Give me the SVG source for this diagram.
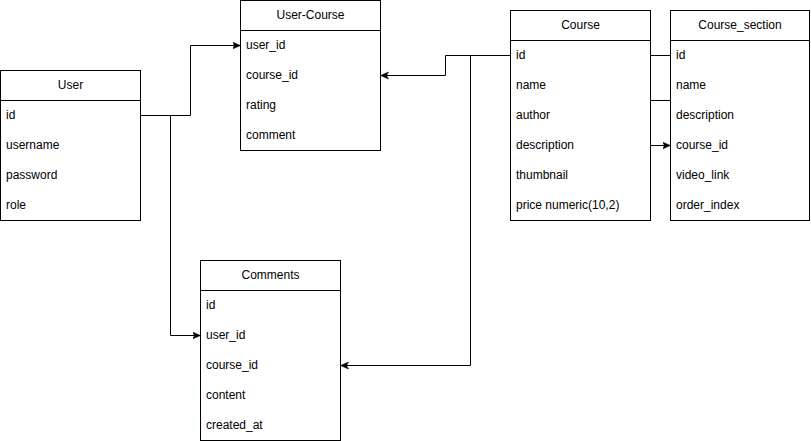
<svg xmlns="http://www.w3.org/2000/svg" width="811" height="441" viewBox="0 0 811 441">
<style>
.box{fill:#ffffff;stroke:#000000;stroke-width:1}
.hd{stroke:#000000;stroke-width:1}
.t{font-family:"Liberation Sans",Arial,sans-serif;font-size:12px;fill:#000000}
.h{text-anchor:middle}
.c{fill:none;stroke:#000000;stroke-width:1}
</style>
<defs>
<marker id="arr" markerUnits="userSpaceOnUse" markerWidth="10" markerHeight="10" refX="8" refY="4" orient="auto">
<path d="M0,0.5 L8,4 L0,7.5 L2,4 Z" fill="#000000" stroke="#000000" stroke-width="0.5"/>
</marker>
</defs>
<g id="User">
<rect class="box" x="0.5" y="70.5" width="140" height="150"/>
<line class="hd" x1="0.5" y1="100.5" x2="140.5" y2="100.5"/>
<text class="t h" x="70.5" y="89">User</text>
<text class="t" x="6" y="119">id</text>
<text class="t" x="6" y="149">username</text>
<text class="t" x="6" y="179">password</text>
<text class="t" x="6" y="209">role</text>
</g>
<g id="UserCourse">
<rect class="box" x="240.5" y="0.5" width="140" height="150"/>
<line class="hd" x1="240.5" y1="30.5" x2="380.5" y2="30.5"/>
<text class="t h" x="310.5" y="19">User-Course</text>
<text class="t" x="246" y="49">user_id</text>
<text class="t" x="246" y="79">course_id</text>
<text class="t" x="246" y="109">rating</text>
<text class="t" x="246" y="139">comment</text>
</g>
<g id="Course">
<rect class="box" x="510.5" y="10.5" width="140" height="210"/>
<line class="hd" x1="510.5" y1="40.5" x2="650.5" y2="40.5"/>
<text class="t h" x="580.5" y="29">Course</text>
<text class="t" x="516" y="59">id</text>
<text class="t" x="516" y="89">name</text>
<text class="t" x="516" y="119">author</text>
<text class="t" x="516" y="149">description</text>
<text class="t" x="516" y="179">thumbnail</text>
<text class="t" x="516" y="209">price numeric(10,2)</text>
</g>
<g id="CourseSection">
<rect class="box" x="670.5" y="10.5" width="139" height="210"/>
<line class="hd" x1="670.5" y1="40.5" x2="809.5" y2="40.5"/>
<text class="t h" x="740" y="29">Course_section</text>
<text class="t" x="676" y="59">id</text>
<text class="t" x="676" y="89">name</text>
<text class="t" x="676" y="119">description</text>
<text class="t" x="676" y="149">course_id</text>
<text class="t" x="676" y="179">video_link</text>
<text class="t" x="676" y="209">order_index</text>
</g>
<g id="Comments">
<rect class="box" x="200.5" y="260.5" width="140" height="180"/>
<line class="hd" x1="200.5" y1="290.5" x2="340.5" y2="290.5"/>
<text class="t h" x="270.5" y="279">Comments</text>
<text class="t" x="206" y="309">id</text>
<text class="t" x="206" y="339">user_id</text>
<text class="t" x="206" y="369">course_id</text>
<text class="t" x="206" y="399">content</text>
<text class="t" x="206" y="429">created_at</text>
</g>
<g id="connectors">
<path class="c" d="M140.5,115.5 H190.5 V45.5 H240.5" marker-end="url(#arr)"/>
<path class="c" d="M140.5,115.5 H170.5 V335.5 H200.5" marker-end="url(#arr)"/>
<path class="c" d="M510.5,55.5 H445.5 V75.5 H380.5" marker-end="url(#arr)"/>
<path class="c" d="M510.5,55.5 H470.5 V365.5 H340.5" marker-end="url(#arr)"/>
<path class="c" d="M650.5,55.5 H670.5 M650.5,100.5 H670.5"/>
<path class="c" d="M650.5,145.5 H670.5" marker-end="url(#arr)"/>
</g>
</svg>
